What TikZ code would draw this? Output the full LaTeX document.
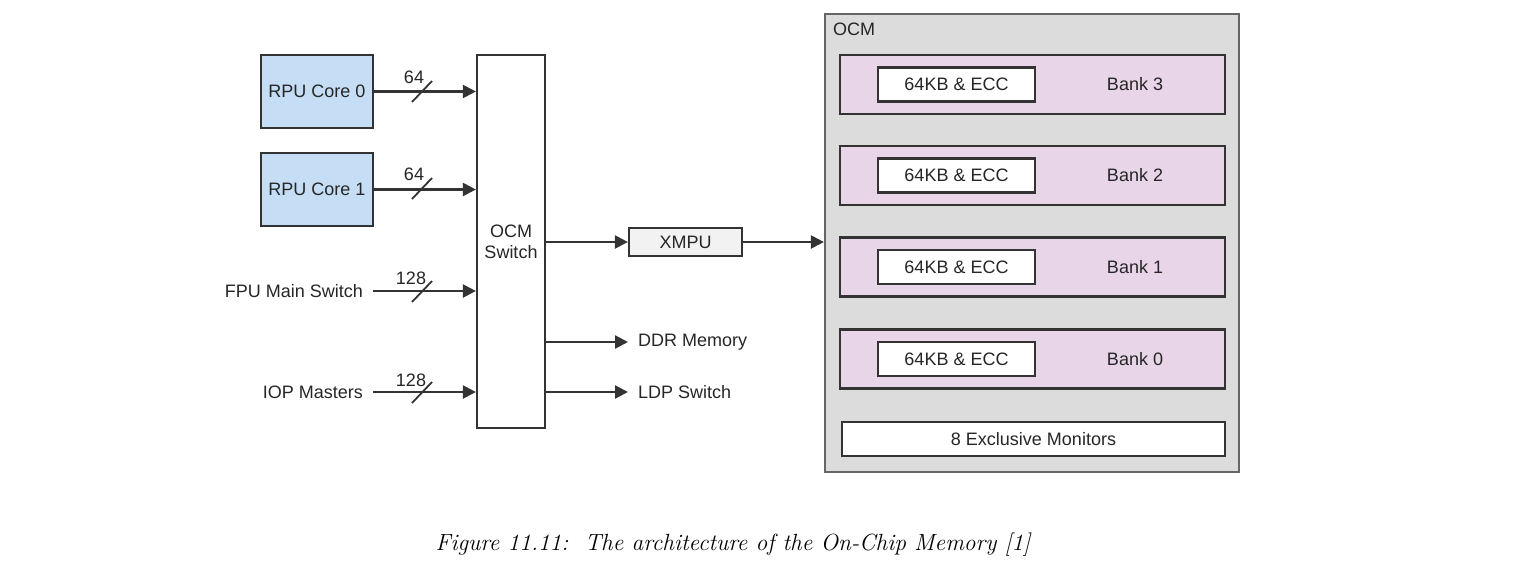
\documentclass[tikz,border=0pt]{standalone}
\usepackage{fontspec}
\setsansfont{Liberation Sans}
\usetikzlibrary{arrows.meta}
\definecolor{edge}{HTML}{333333}
\definecolor{rpublue}{HTML}{C5DEF5}
\definecolor{ocmgray}{HTML}{DCDCDC}
\definecolor{bankpurple}{HTML}{E8D5E8}
\definecolor{xmpugray}{HTML}{F2F2F2}
\definecolor{txt}{HTML}{262626}
\tikzset{
  box/.style={draw=edge, line width=2.2pt, inner sep=0pt, text=txt},
  lbl/.style={inner sep=0pt, text=txt},
  arr/.style={draw=edge, line width=2.2pt, -{Triangle[length=13pt,width=13pt]}},
  slash/.style={draw=edge, line width=1.8pt},
}
\begin{document}
\begin{tikzpicture}[x=1pt,y=-1pt, font=\sffamily\fontsize{18}{21}\selectfont]
\useasboundingbox (0,0) rectangle (1517,573);
% left sources
\node[box, fill=rpublue, minimum width=112pt, minimum height=73pt] (c0) at (317,91.5) {RPU Core 0};
\node[box, fill=rpublue, minimum width=112pt, minimum height=73pt] (c1) at (317,189.5) {RPU Core 1};
\node[lbl, anchor=east, inner xsep=10pt] (fpu) at (373,291) {FPU Main Switch};
\node[lbl, anchor=east, inner xsep=10pt] (iop) at (373,392) {IOP Masters};
% switch
\node[box, fill=white, minimum width=68pt, minimum height=373pt, align=center] (sw) at (511,241.5) {OCM\\Switch};
% inputs
\draw[arr] (c0.east) -- (sw.west |- c0.east);
\draw[arr] (c1.east) -- (sw.west |- c1.east);
\draw[arr] (fpu.east) -- (sw.west |- fpu.east);
\draw[arr] (iop.east) -- (sw.west |- iop.east);
% bus width slashes
\draw[slash] (412,102) -- (432,81);
\draw[slash] (412,199) -- (432,178);
\draw[slash] (412,302) -- (432,281);
\draw[slash] (412,403) -- (432,382);
\node[lbl] (w0) at (414,77) {64};
\node[lbl] (w1) at (414,174) {64};
\node[lbl] (w2) at (411,278) {128};
\node[lbl] (w3) at (411,380) {128};
% outputs
\node[box, fill=xmpugray, minimum width=113pt, minimum height=28pt] (xmpu) at (685.5,242) {XMPU};
\node[lbl, anchor=west, inner xsep=10pt] (ddr) at (628,342) {DDR Memory};
\node[lbl, anchor=west, inner xsep=10pt] (ldp) at (628,392) {LDP Switch};
\draw[arr] (sw.east |- xmpu.west) -- (xmpu.west);
\draw[arr] (sw.east |- ddr.west) -- (ddr.west);
\draw[arr] (sw.east |- ldp.west) -- (ldp.west);
% OCM block
\node[box, draw=edge!75, fill=ocmgray, minimum width=414pt, minimum height=458pt] (ocm) at (1032,243) {};
\node[lbl, anchor=west] (ocmlbl) at (833,29) {OCM};
\draw[arr] (xmpu.east) -- (ocm.west |- xmpu.east);
% banks
\foreach \n/\y in {3/84.5, 2/175.5, 1/267, 0/359}{
  \node[box, fill=bankpurple, minimum width=385pt, minimum height=59pt] (bank\n) at (1032.5,\y) {};
  \node[box, fill=white, minimum width=157pt, minimum height=34pt] (mem\n) at (956.5,\y) {64KB \& ECC};
  \node[lbl] (bl\n) at (1135,\y) {Bank \n};
}
\node[box, fill=white, minimum width=383pt, minimum height=34pt] (mon) at (1033.5,439) {8 Exclusive Monitors};
% caption
\node[lbl, text=black, font=\rmfamily\itshape\fontsize{23.4}{28}\selectfont] (cap) at (733,545) {Figure 11.11:\ \ The architecture of the On-Chip Memory [1]};
\end{tikzpicture}
\end{document}
